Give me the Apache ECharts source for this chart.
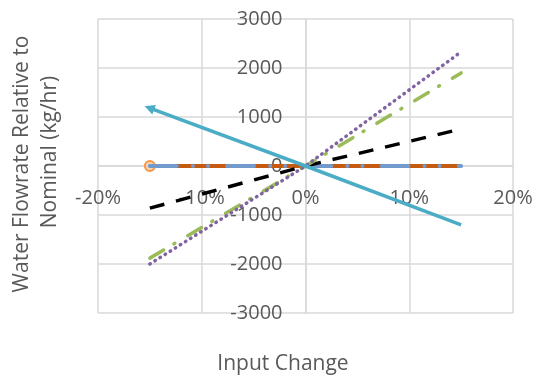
<!DOCTYPE html>
<html><head><meta charset="utf-8">
<script src="https://cdn.jsdelivr.net/npm/echarts@6/dist/echarts.min.js"></script>
<style>html,body{margin:0;padding:0;background:#fff}#c{width:537px;height:384px}</style>
</head><body><div id="c"></div>
<script>
var xValues = [-15, 0, 15];
var tealSeries = [1180, 0, -1200];
var purpleSeries = [-2000, 0, 2330];
var greenSeries = [-1880, 0, 1900];
var blackSeries = [-860, 0, 755];
var orangeSeries = [0, 0, 0];
var blueSeries = [0, 0, 0];
var xTicks = [-20, -10, 0, 10, 20];
var yTicks = [-3000, -2000, -1000, 0, 1000, 2000, 3000];
var yTitle1 = 'Water Flowrate Relative to';
var yTitle2 = 'Nominal (kg/hr)';
var xTitle = 'Input Change';

function pairs(ys){ return xValues.map(function(x,i){ return [x, ys[i]]; }); }
var FONT = 'Open Sans';
var TXT = '#595959';

function firstMarker(ys, sym, size, color, border, rot){
  return xValues.map(function(x,i){
    if(i===0) return {value:[x, ys[i]], symbol: sym, symbolSize: size, symbolRotate: rot||0,
      itemStyle:{color: color, borderColor: border, borderWidth: 2}};
    return {value:[x, ys[i]], symbol:'none'};
  });
}

var GL = 98, GR = 24, GT = 19, GB = 71, W = 537, H = 384;
var plotW = W - GL - GR, plotH = H - GT - GB;
var xMin = xTicks[0], xMax = xTicks[xTicks.length-1];
var yMin = yTicks[0], yMax = yTicks[yTicks.length-1];
var yAxisOffset = -plotW * (0 - xMin) / (xMax - xMin);
var xAxisOffset = -plotH * (0 - yMin) / (yMax - yMin);

var chart = echarts.init(document.getElementById('c'), null, {renderer:'canvas'});
chart.setOption({
  animation:false,
  grid:{left:GL, right:GR, top:GT, bottom:GB, containLabel:false},
  xAxis:{type:'value', min:xMin, max:xMax, interval:10, position:'bottom', offset:xAxisOffset,
    axisLine:{show:true, onZero:false, lineStyle:{color:'#D9D9D9', width:1.5}},
    axisTick:{show:false},
    splitLine:{show:true, lineStyle:{color:'#D9D9D9', width:1.5}},
    axisLabel:{formatter:function(v){return v+'%';}, color:TXT, fontFamily:FONT, fontSize:20, margin:22}},
  yAxis:{type:'value', min:yMin, max:yMax, interval:1000, position:'left', offset:yAxisOffset,
    axisLine:{show:true, onZero:false, lineStyle:{color:'#D9D9D9', width:1.5}},
    axisTick:{show:false},
    splitLine:{show:true, lineStyle:{color:'#D9D9D9', width:1.5}},
    axisLabel:{formatter:function(v){return String(v);}, color:TXT, fontFamily:FONT, fontSize:20, margin:23}},
  graphic:[
    {type:'text', x:22, y:164, rotation:Math.PI/2, style:{text:yTitle1, fill:TXT, font:'21px "'+FONT+'"', align:'center', verticalAlign:'middle'}},
    {type:'text', x:50, y:152, rotation:Math.PI/2, style:{text:yTitle2, fill:TXT, font:'21px "'+FONT+'"', align:'center', verticalAlign:'middle'}},
    {type:'text', x:283, y:364, style:{text:xTitle, fill:TXT, font:'21px "'+FONT+'"', align:'center', verticalAlign:'middle'}}
  ],
  series:[
    {type:'line', data:firstMarker(orangeSeries,'circle',10,'#FAD3B3','#F79646'), z:2,
      lineStyle:{color:'#C55A11', width:4}, itemStyle:{color:'#F79646'}},
    {type:'line', data:pairs(blueSeries), showSymbol:false, symbol:'none', z:3,
      lineStyle:{color:'#729ACD', width:4, type:[27,16,0.1,15,0.1,19], cap:'round'}},
    {type:'line', data:pairs(blackSeries), showSymbol:false, symbol:'none', z:4,
      lineStyle:{color:'#000000', width:3.5, type:[15,12]}},
    {type:'line', data:pairs(greenSeries), showSymbol:false, symbol:'none', z:4,
      lineStyle:{color:'#9BBB59', width:3.5, type:[16,12,1,15], cap:'round'}},
    {type:'line', data:pairs(purpleSeries), showSymbol:false, symbol:'none', z:4,
      lineStyle:{color:'#8064A2', width:3.5, type:[0.5,5.5], cap:'round'}},
    {type:'line', data:firstMarker(tealSeries,'triangle',7,'#4BACC6','#4BACC6',69), z:5,
      lineStyle:{color:'#4BACC6', width:3.5}, itemStyle:{color:'#4BACC6'}}
  ]
});
</script></body></html>
